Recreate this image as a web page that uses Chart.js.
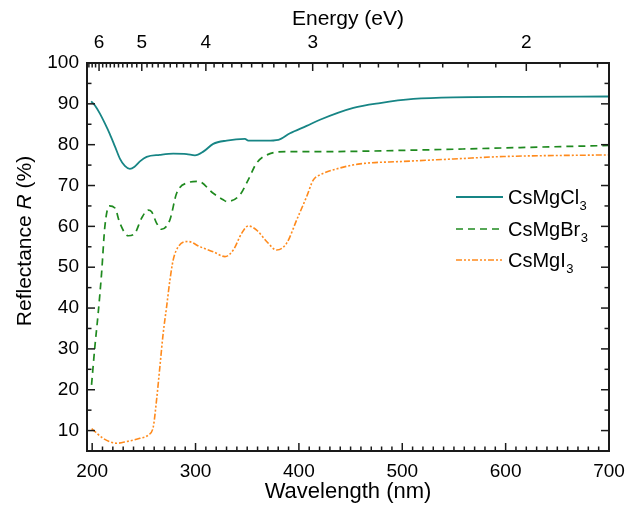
<!DOCTYPE html>
<html>
<head>
<meta charset="utf-8">
<script src="https://cdn.jsdelivr.net/npm/chart.js@4.4.0/dist/chart.umd.min.js"></script>
<style>
html,body{margin:0;padding:0;background:#fff}
canvas{display:block}
</style>
</head>
<body>
<canvas id="reflChart" width="636" height="506"></canvas>
<script>

// reflectance spectra, wavelength in nm, R in %
let clWave = [199, 202.7, 207.5, 212.3, 217.1, 222, 226.8, 231.6, 236.5, 241, 246.2, 252.7, 265.5, 278.4, 291.4, 299.4, 307.5, 317.1, 330.1, 347.8, 351, 368.8, 380.1, 391.4, 407.5, 420.4, 452.7, 478.5, 510.7, 549.5, 614.1, 700]
let clRefl = [90.6, 89.6, 87.6, 85.2, 82.6, 79.6, 76.6, 74.8, 74.1, 74.6, 75.9, 77.0, 77.5, 77.8, 77.7, 77.4, 78.3, 80.2, 81.0, 81.4, 81.0, 81.0, 81.2, 82.8, 84.6, 86.1, 89.0, 90.2, 91.2, 91.6, 91.7, 91.8]

let brWave = [199.4, 202.6, 205.8, 209.1, 212.3, 216.5, 222, 226.8, 234.8, 241.3, 247.8, 254.2, 257.5, 262.3, 267.2, 275.2, 281.7, 291.4, 302.6, 317.1, 326.8, 330.1, 342.9, 351, 359.1, 372, 388.2, 420.4, 517.2, 614.1, 700]
let brRefl = [21.2, 30.5, 38.7, 48.5, 60.0, 65.0, 64.5, 60.8, 57.7, 58.3, 62.0, 64.0, 63.6, 60.8, 59.3, 61.6, 68.1, 70.6, 71.0, 68.1, 66.5, 66.1, 67.7, 71.4, 75.5, 77.8, 78.3, 78.3, 78.7, 79.3, 79.8]

let iWave = [199.5, 210.6, 223.6, 233.3, 246.2, 254.2, 259.1, 262.3, 265.5, 268.7, 272, 275.2, 278.4, 283.3, 292.9, 304.3, 317.1, 328.5, 336.5, 344.6, 351, 359.1, 368.8, 378.5, 388.2, 397.9, 407.5, 414, 420.4, 439.8, 459.1, 501, 549.5, 597.9, 700]
let iRefl = [10.5, 8.1, 6.9, 7.3, 8.1, 8.9, 10.9, 17.5, 25.6, 33.8, 40.3, 46.8, 51.8, 55.0, 56.3, 55.0, 53.8, 52.6, 54.2, 58.3, 60.1, 59.1, 56.3, 54.2, 55.9, 61.6, 67.3, 71.4, 72.6, 74.3, 75.3, 75.9, 76.5, 77.1, 77.5]

let seriesNames = ["CsMgCl₃", "CsMgBr₃", "CsMgI₃"]
let formulas = [["CsMgCl", "3"], ["CsMgBr", "3"], ["CsMgI", "3"]]

let wlTicks = [200, 300, 400, 500, 600, 700]
let energyTicks = [6, 5, 4, 3, 2]
let reflTicks = [10, 20, 30, 40, 50, 60, 70, 80, 90, 100]

const HC = 1240 // eV*nm
const FONT = "'Liberation Sans', Arial, sans-serif"

Chart.defaults.font.family = FONT
Chart.defaults.color = "#000"


function pairs(xs, ys){
return xs.map((x,i)=>({x:x, y:ys[i]}))
}


// inward tick marks, box frame, legend and y title
const framePlugin = {

id:"frame",

afterDraw(chart){

let {ctx, chartArea:a, scales} = chart
let sx = scales.x
let sy = scales.y

ctx.save()
ctx.strokeStyle = "#1a1a1a"
ctx.lineWidth = 1.5

let tick = (x1,y1,x2,y2)=>{
ctx.beginPath()
ctx.moveTo(x1,y1)
ctx.lineTo(x2,y2)
ctx.stroke()
}

// wavelength ticks, minor every 10 nm
for(let v=200; v<=700; v+=10){
let px = sx.getPixelForValue(v)
let len = v%100===0 ? 8 : 4.5
tick(px, a.bottom, px, a.bottom-len)
}

// energy ticks, minor every 0.1 eV
for(let e10=18; e10<=63; e10++){
let px = sx.getPixelForValue(HC/(e10/10))
if(px < a.left || px > a.right) continue
let len = e10%10===0 ? 8 : 4.5
tick(px, a.top, px, a.top+len)
}

// reflectance ticks, both sides
for(let v=10; v<=100; v+=5){
let py = sy.getPixelForValue(v)
let len = v%10===0 ? 8 : 4.5
tick(a.left, py, a.left+len, py)
tick(a.right, py, a.right-len, py)
}

ctx.lineWidth = 2
ctx.strokeRect(a.left, a.top, a.right-a.left, a.bottom-a.top)

// legend
let rowY = [197, 229, 260]
chart.data.datasets.forEach((ds,i)=>{
let y = rowY[i]
ctx.strokeStyle = ds.borderColor
ctx.lineWidth = ds.borderWidth
ctx.setLineDash(ds.borderDash || [])
tick(456, y, 503, y)
ctx.setLineDash([])

ctx.fillStyle = "#000"
ctx.textBaseline = "alphabetic"
ctx.textAlign = "left"
ctx.font = "20px " + FONT
ctx.fillText(formulas[i][0], 508, y+7)
let w = ctx.measureText(formulas[i][0]).width
ctx.font = "13px " + FONT
ctx.fillText(formulas[i][1], 508+w+0.5, y+13)
})

// y title with italic R
let parts = [["Reflectance ", ""], ["R", "italic "], [" (%)", ""]]
let total = 0
parts.forEach(p=>{
ctx.font = p[1] + "21px " + FONT
total += ctx.measureText(p[0]).width
})
ctx.translate(31, 241)
ctx.rotate(-Math.PI/2)
let x = -total/2
parts.forEach(p=>{
ctx.font = p[1] + "21px " + FONT
ctx.fillText(p[0], x, 0)
x += ctx.measureText(p[0]).width
})

ctx.restore()

}

}


new Chart(document.getElementById("reflChart"),{

type:"scatter",

data:{

datasets:[

{
label:seriesNames[0],
data:pairs(clWave, clRefl),
borderColor:"#178585",
borderWidth:1.8,
showLine:true,
pointRadius:0,
cubicInterpolationMode:"monotone"
},

{
label:seriesNames[1],
data:pairs(brWave, brRefl),
borderColor:"#1f8a1f",
borderWidth:1.7,
borderDash:[7,5],
showLine:true,
pointRadius:0,
cubicInterpolationMode:"monotone"
},

{
label:seriesNames[2],
data:pairs(iWave, iRefl),
borderColor:"#ff8a1c",
borderWidth:1.6,
borderDash:[6,2,2,2,2,2],
showLine:true,
pointRadius:0,
cubicInterpolationMode:"monotone"
}

]

},

options:{

responsive:false,
animation:false,
layout:{padding:0},

plugins:{
legend:{display:false},
tooltip:{enabled:false}
},

scales:{

x:{
type:"linear",
position:"bottom",
min:195,
max:700,
afterFit(s){ s.height = 55 },
afterBuildTicks(s){ s.ticks = wlTicks.map(v=>({value:v})) },
grid:{display:false, drawTicks:false},
border:{display:false},
ticks:{padding:9, font:{size:19}, autoSkip:false, maxRotation:0},
title:{display:true, text:"Wavelength (nm)", font:{size:22}, padding:{top:0, bottom:1}}
},

x2:{
type:"linear",
position:"top",
min:195,
max:700,
afterFit(s){ s.height = 63 },
afterBuildTicks(s){ s.ticks = energyTicks.map(e=>({value:HC/e})) },
grid:{display:false, drawTicks:false},
border:{display:false},
ticks:{padding:9, font:{size:19}, autoSkip:false, maxRotation:0,
callback:v=>String(Math.round(HC/v))},
title:{display:true, text:"Energy (eV)", font:{size:21}, padding:{top:7, bottom:0}}
},

y:{
type:"linear",
position:"left",
min:5,
max:100,
afterFit(s){ s.width = 87 },
afterBuildTicks(s){ s.ticks = reflTicks.map(v=>({value:v})) },
grid:{display:false, drawTicks:false},
border:{display:false},
ticks:{padding:8, font:{size:19}}
},

y2:{
type:"linear",
position:"right",
min:5,
max:100,
afterFit(s){ s.width = 27 },
grid:{display:false, drawTicks:false},
border:{display:false},
ticks:{display:false}
}

}

},

plugins:[framePlugin]

})

</script>
</body>
</html>
